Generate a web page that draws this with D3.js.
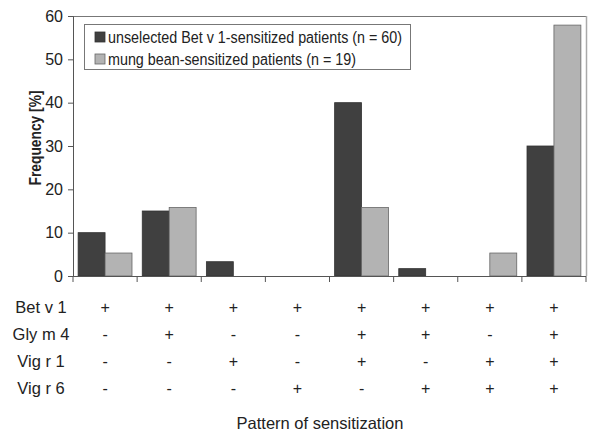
<!DOCTYPE html>
<html><head><meta charset="utf-8">
<script src="https://cdn.jsdelivr.net/npm/d3@7"></script>
<style>body{margin:0;background:#fff}svg{display:block}text{font-family:"Liberation Sans",Arial,sans-serif}</style>
</head><body><svg id="c" width="600" height="440"></svg>
<script>
const categories = ["p1","p2","p3","p4","p5","p6","p7","p8"];
const seriesNames = ["unselected Bet v 1-sensitized patients (n = 60)", "mung bean-sensitized patients (n = 19)"];
const unselected = [10, 15, 3.3, 0, 40, 1.7, 0, 30];
const mungBean = [5.3, 15.8, 0, 0, 15.8, 0, 5.3, 57.9];
const yTicks = [0, 10, 20, 30, 40, 50, 60];
const rowLabels = ["Bet v 1", "Gly m 4", "Vig r 1", "Vig r 6"];
const patterns = [
  ["+","+","+","+","+","+","+","+"],
  ["-","+","-","-","+","+","-","+"],
  ["-","-","+","-","+","-","+","+"],
  ["-","-","-","+","-","+","+","+"]
];
const yTitle = "Frequency [%]";
const xTitle = "Pattern of sensitization";

const svg = d3.select("#c");
const L = 73, R = 586, T = 16, B = 276;
const x = d3.scaleBand().domain(categories).range([L, R]).paddingInner(0.16).paddingOuter(0.08);
const xc = d3.scaleBand().domain(categories).range([L, R]);
const y = d3.scaleLinear().domain([0, 60]).range([B, T]);
const colors = ["#404040", "#b3b3b3"];
const strokes = ["#333", "#666"];

// frame
svg.append("line").attr("x1", L).attr("x2", R).attr("y1", T + 0.5).attr("y2", T + 0.5).attr("stroke", "#777");
svg.append("line").attr("x1", R + 0.5).attr("x2", R + 0.5).attr("y1", T).attr("y2", B).attr("stroke", "#aaa").attr("stroke-width", 1.5);

// bars
const data = [unselected, mungBean];
data.forEach((vals, s) => {
  svg.append("g").selectAll("rect").data(categories).join("rect")
    .attr("x", (d) => x(d) + s * x.bandwidth() / 2)
    .attr("width", x.bandwidth() / 2)
    .attr("y", (d, i) => y(vals[i]))
    .attr("height", (d, i) => B - y(vals[i]))
    .attr("fill", colors[s])
    .attr("stroke", (d, i) => vals[i] > 0 ? strokes[s] : "none")
    .attr("stroke-width", 0.8);
});

// y axis
const ya = svg.append("g").attr("transform", `translate(${L},0)`)
  .call(d3.axisLeft(y).tickValues(yTicks).tickSize(5).tickPadding(5));
ya.select(".domain").attr("stroke", "#555");
ya.selectAll(".tick line").attr("stroke", "#555");
ya.selectAll("text").attr("font-size", 16).attr("fill", "#222");

// x axis with ticks between categories
const xa = svg.append("g").attr("transform", `translate(0,${B})`);
xa.append("line").attr("x1", L).attr("x2", R).attr("y1", 0.5).attr("y2", 0.5).attr("stroke", "#555");
xa.selectAll("line.t").data(categories.concat(["end"])).join("line").attr("class", "t")
  .attr("x1", (d, i) => L + i * xc.bandwidth()).attr("x2", (d, i) => L + i * xc.bandwidth())
  .attr("y1", 0).attr("y2", 6).attr("stroke", "#555");

// y title
svg.append("text").attr("transform", `translate(35,138) rotate(-90)`)
  .attr("text-anchor", "middle").attr("dy", "0.35em").attr("font-size", 16).attr("font-weight", "bold").attr("fill", "#222")
  .attr("textLength", 95).attr("lengthAdjust", "spacingAndGlyphs").text(yTitle);

// pattern table
const rowY = [307, 334, 361, 388];
rowLabels.forEach((lab, r) => {
  svg.append("text").attr("x", 41).attr("y", rowY[r]).attr("dy", "0.35em").attr("text-anchor", "middle")
    .attr("font-size", 16.5).attr("fill", "#222").text(lab);
  svg.append("g").selectAll("text").data(categories).join("text")
    .attr("x", (d) => xc(d) + xc.bandwidth() / 2).attr("y", rowY[r]).attr("dy", "0.35em")
    .attr("text-anchor", "middle").attr("font-size", 16).attr("fill", "#222")
    .text((d, i) => patterns[r][i]);
});

svg.append("text").attr("x", 320).attr("y", 423).attr("dy", "0.35em").attr("text-anchor", "middle")
  .attr("font-size", 16.5).attr("fill", "#222").text(xTitle);

// legend
const legendWidths = [294, 248];
const lg = svg.append("g");
lg.append("rect").attr("x", 84.5).attr("y", 24.5).attr("width", 326).attr("height", 45)
  .attr("fill", "#fff").attr("stroke", "#777");
seriesNames.forEach((n, i) => {
  const cy = 37 + i * 22;
  lg.append("rect").attr("x", 95).attr("y", cy - 5).attr("width", 10).attr("height", 10)
    .attr("fill", colors[i]).attr("stroke", strokes[i]).attr("stroke-width", 0.8);
  lg.append("text").attr("x", 108).attr("y", cy).attr("dy", "0.36em").attr("font-size", 16).attr("fill", "#222")
    .attr("textLength", legendWidths[i]).attr("lengthAdjust", "spacingAndGlyphs").text(n);
});
</script></body></html>
